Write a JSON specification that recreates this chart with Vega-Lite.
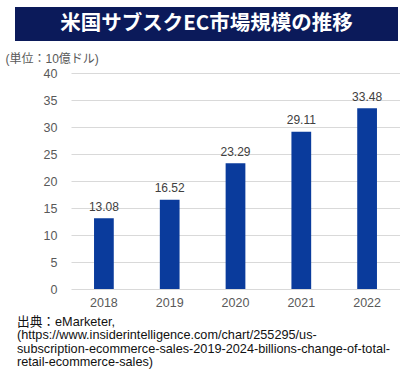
{
  "$schema": "https://vega.github.io/schema/vega-lite/v6.json",
  "padding": {"left": 5, "top": 7, "right": 0, "bottom": 0},
  "autosize": {"type": "pad"},
  "background": "white",
  "spacing": 11,
  "config": {
    "view": {"stroke": null},
    "font": "Liberation Sans, Noto Sans CJK JP"
  },
  "title": {
    "text": ["出典：eMarketer,", "(https://www.insiderintelligence.com/chart/255295/us-", "subscription-ecommerce-sales-2019-2024-billions-change-of-total-", "retail-ecommerce-sales)"],
    "orient": "bottom",
    "anchor": "start",
    "frame": "bounds",
    "dx": 12,
    "offset": 7,
    "fontSize": 12.7,
    "fontWeight": "normal",
    "color": "#111111",
    "lineHeight": 13.6
  },
  "vconcat": [
    {
      "width": 383,
      "height": 34,
      "view": {"fill": "#0b1a5a", "stroke": null},
      "data": {"values": [{"t": "米国サブスクEC市場規模の推移"}]},
      "mark": {"type": "text", "color": "white", "font": "Noto Sans CJK JP", "fontWeight": "bold", "fontSize": 20.5, "baseline": "middle", "align": "center"},
      "encoding": {"text": {"field": "t"}}
    },
    {
      "width": 385,
      "height": 216,
      "data": {"values": [
        {"year": "2018", "value": 13.08},
        {"year": "2019", "value": 16.52},
        {"year": "2020", "value": 23.29},
        {"year": "2021", "value": 29.11},
        {"year": "2022", "value": 33.48}
      ]},
      "encoding": {
        "x": {
          "field": "year", "type": "ordinal",
          "scale": {"range": [56, 385], "paddingInner": 0.7, "paddingOuter": 0.35},
          "axis": {"title": null, "labelAngle": 0, "domain": false, "ticks": false, "labelPadding": 7, "labelFontSize": 12.5, "labelColor": "#595959", "labelFont": "Liberation Sans"}
        },
        "y": {
          "field": "value", "type": "quantitative",
          "scale": {"domain": [0, 40], "nice": false},
          "axis": {
            "values": [0, 5, 10, 15, 20, 25, 30, 35, 40],
            "offset": -56,
            "domain": false, "ticks": false, "labelPadding": 14,
            "labelFontSize": 12.5, "labelColor": "#595959", "labelFont": "Liberation Sans",
            "gridColor": "#d9d9d9", "gridWidth": 1,
            "title": "(単位：10億ドル)", "titleAngle": 0, "titleAlign": "left", "titleBaseline": "middle",
            "titleX": -66, "titleY": -15, "titleFontSize": 12, "titleFontWeight": "normal", "titleColor": "#595959"
          }
        }
      },
      "layer": [
        {"mark": {"type": "bar", "color": "#0a3b9c"}},
        {
          "mark": {"type": "text", "baseline": "alphabetic", "dy": -7.5, "fontSize": 12, "color": "#404040", "font": "Liberation Sans"},
          "encoding": {"text": {"field": "value", "type": "quantitative", "format": ".2f"}}
        }
      ]
    }
  ]
}
